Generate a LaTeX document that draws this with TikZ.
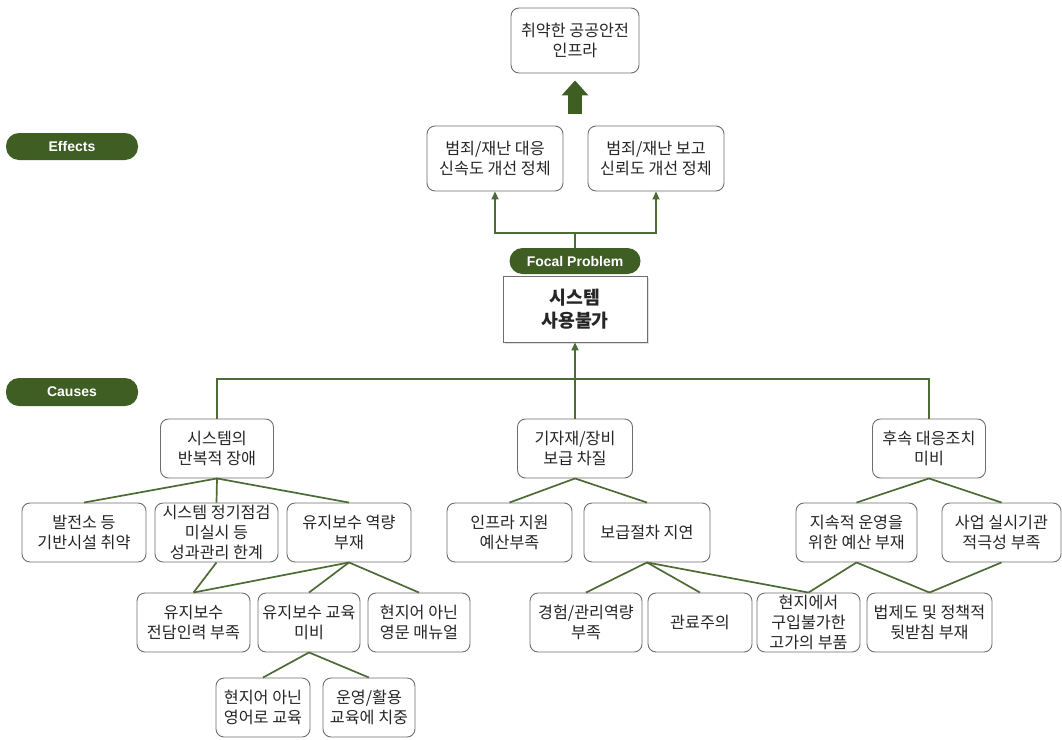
\documentclass[tikz,border=0pt]{standalone}
\usepackage{fontspec}
\setmainfont{Noto Sans CJK KR}
\newfontfamily\pillfont{Liberation Sans}
\usetikzlibrary{arrows.meta,calc,shadows}
\definecolor{leaf}{HTML}{3E5E23}
\definecolor{stem}{HTML}{4D6B34}
\definecolor{edge}{HTML}{6E6E6E}
\tikzset{
  cbox/.style={draw=edge, line width=0.9pt, rounded corners=8pt, align=center, inner sep=0pt, fill=white, text=black!85, font=\fontsize{16.2}{20}\selectfont, minimum height=59pt},
  pill/.style={fill=leaf, rounded corners=13pt, text=white, inner sep=0pt, font=\pillfont\bfseries\fontsize{14}{16}\selectfont},
  link/.style={draw=stem, line width=1.7pt},
  arr/.style={link, -{Triangle[width=7pt,length=8pt]}},
}
\begin{document}
\begin{tikzpicture}[x=1pt,y=1pt,yscale=-1,xscale=1]
            \useasboundingbox (0,0) rectangle (1062,739);
            %labels on the left
            \node[pill, minimum width=132pt, minimum height=27pt] (effects) at (72,146.5) {Effects};
            \node[pill, minimum width=132pt, minimum height=28pt] (causes) at (72,392) {Causes};
            %
            %effects
            \node[cbox, minimum width=128pt, minimum height=65pt] (infra) at (575,40.5) {취약한 공공안전\\인프라};
            \node[cbox, minimum width=136pt, minimum height=65pt] (eff1) at (495,158.5) {범죄/재난 대응\\신속도 개선 정체};
            \node[cbox, minimum width=136pt, minimum height=65pt] (eff2) at (656,158.5) {범죄/재난 보고\\신뢰도 개선 정체};
            %big arrow
            \draw[draw=leaf, line width=14pt, -{Triangle[width=26pt,length=15pt]}] ($(infra.south)+(0,41)$) -- ($(infra.south)+(0,7)$);
            %
            %focal problem
            \node[draw=edge, line width=0.9pt, fill=white, drop shadow={opacity=0.25, shadow xshift=1.5pt, shadow yshift=-1.5pt}, minimum width=144pt, minimum height=66pt, align=center, text=black!85, font=\bfseries\fontsize{18.3}{23}\selectfont] (fbox) at (575,309) {시스템\\사용불가};
            \node[pill, minimum width=131pt, minimum height=26pt] (fpill) at (575,261) {Focal Problem};
            \draw[arr] (fpill.north) -- ++(0,-15) -| (eff1.south);
            \draw[arr] (fpill.north) -- ++(0,-15) -| (eff2.south);
            %
            %causes, first level
            \node[cbox, minimum width=113pt] (c1) at (217,448.5) {시스템의\\반복적 장애};
            \node[cbox, minimum width=115pt] (c2) at (575,448.5) {기자재/장비\\보급 차질};
            \node[cbox, minimum width=113pt] (c3) at (929,448.5) {후속 대응조치\\미비};
            \coordinate (hub) at (575,379);
            \draw[arr] (hub) -- (fbox.south);
            \draw[link] (c1.north) |- (hub) -| (c3.north);
            \draw[link] (hub) -- (c2.north);
            %
            %second level
            \node[cbox, minimum width=124pt] (l2a) at (84,532.5) {발전소 등\\기반시설 취약};
            \node[cbox, minimum width=123pt] (l2b) at (216.5,532.5) {시스템 정기점검\\미실시 등\\성과관리 한계};
            \node[cbox, minimum width=124pt] (l2c) at (349,532.5) {유지보수 역량\\부재};
            \node[cbox, minimum width=125pt] (l2d) at (509.5,532.5) {인프라 지원\\예산부족};
            \node[cbox, minimum width=126pt] (l2e) at (647,532.5) {보급절차 지연};
            \node[cbox, minimum width=121pt] (l2f) at (856.5,532.5) {지속적 운영을\\위한 예산 부재};
            \node[cbox, minimum width=119pt] (l2g) at (1001.5,532.5) {사업 실시기관\\적극성 부족};
            \foreach \k in {l2a,l2b,l2c} \draw[link] (c1.south) -- (\k.north);
            \foreach \k in {l2d,l2e} \draw[link] (c2.south) -- (\k.north);
            \foreach \k in {l2f,l2g} \draw[link] (c3.south) -- (\k.north);
            %
            %third level
            \node[cbox, minimum width=113pt] (l3a) at (193.5,622.5) {유지보수\\전담인력 부족};
            \node[cbox, minimum width=102pt] (l3b) at (309,622.5) {유지보수 교육\\미비};
            \node[cbox, minimum width=102pt] (l3c) at (419,622.5) {현지어 아닌\\영문 매뉴얼};
            \node[cbox, minimum width=112pt] (l3d) at (586,622.5) {경험/관리역량\\부족};
            \node[cbox, minimum width=104pt] (l3e) at (700,622.5) {관료주의};
            \node[cbox, minimum width=103pt] (l3f) at (808.5,622.5) {현지에서\\구입불가한\\고가의 부품};
            \node[cbox, minimum width=125pt] (l3g) at (929.5,622.5) {법제도 및 정책적\\뒷받침 부재};
            \draw[link] (l2b.south) -- (l3a.north);
            \foreach \k in {l3a,l3b,l3c} \draw[link] (l2c.south) -- (\k.north);
            \foreach \k in {l3d,l3e,l3f} \draw[link] (l2e.south) -- (\k.north);
            \foreach \k in {l3f,l3g} \draw[link] (l2f.south) -- (\k.north);
            \draw[link] (l2g.south) -- (l3g.north);
            %
            %fourth level
            \node[cbox, minimum width=94pt] (l4a) at (263,707.5) {현지어 아닌\\영어로 교육};
            \node[cbox, minimum width=92pt] (l4b) at (369,707.5) {운영/활용\\교육에 치중};
            \foreach \k in {l4a,l4b} \draw[link] (l3b.south) -- (\k.north);
            %
\end{tikzpicture}
\end{document}
